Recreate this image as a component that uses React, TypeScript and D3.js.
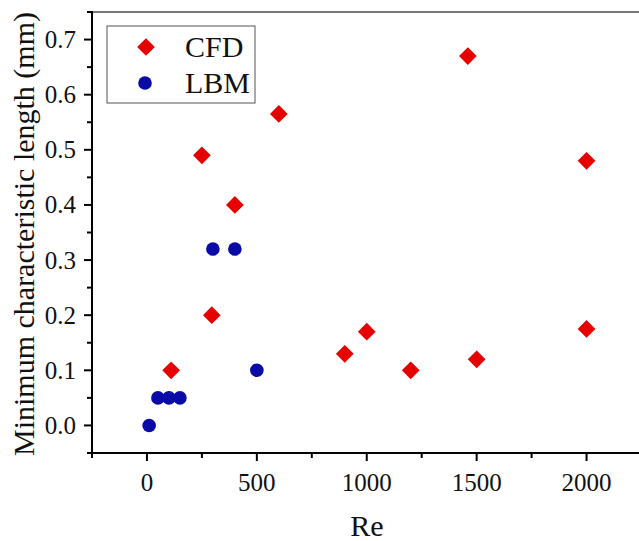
import React from 'react';
import * as d3 from 'd3';

const cfdRe = [110, 295, 250, 400, 600, 900, 1000, 1200, 1460, 1500, 2000, 2000];
const cfdLen = [0.1, 0.2, 0.49, 0.4, 0.565, 0.13, 0.17, 0.1, 0.67, 0.12, 0.48, 0.175];
const lbmRe = [10, 50, 100, 150, 300, 400, 500];
const lbmLen = [0, 0.05, 0.05, 0.05, 0.32, 0.32, 0.1];
const xTicks = [0, 500, 1000, 1500, 2000];
const xMinor = [-250, 250, 750, 1250, 1750];
const yTicks = [0, 0.1, 0.2, 0.3, 0.4, 0.5, 0.6, 0.7];
const yMinor = [-0.05, 0.05, 0.15, 0.25, 0.35, 0.45, 0.55, 0.65, 0.75];

const W = 639;
const H = 541;
const RED = '#e60000';
const BLUE = '#0a0aa6';
const FONT = '"Liberation Serif", "Times New Roman", serif';

const App = () => {
  const x = d3.scaleLinear().domain([-250, 2250]).range([92, 641.5]);
  const y = d3.scaleLinear().domain([-0.05, 0.75]).range([453, 12]);
  const diamond = d3.symbol().type(d3.symbolDiamond2).size(200);

  return (
    <svg width={W} height={H} style={{ position: 'absolute', left: 0, top: 0, background: '#fff' }}>
      {/* top frame */}
      <line x1={x(-250)} x2={W} y1={y(0.75)} y2={y(0.75)} stroke="#777" strokeWidth={2} />
      {/* axes */}
      <line x1={x(-250)} x2={W} y1={y(-0.05)} y2={y(-0.05)} stroke="#000" strokeWidth={2} />
      <line x1={x(-250)} x2={x(-250)} y1={y(-0.05) + 1} y2={y(0.75) - 1} stroke="#000" strokeWidth={2} />

      {xTicks.map((t) => (
        <g key={'xt' + t}>
          <line x1={x(t)} x2={x(t)} y1={y(-0.05)} y2={y(-0.05) + 8} stroke="#000" strokeWidth={2} />
          <text x={x(t)} y={491} textAnchor="middle" fontFamily={FONT} fontSize={25} fill="#111">
            {t}
          </text>
        </g>
      ))}
      {xMinor.map((t) => (
        <line key={'xm' + t} x1={x(t)} x2={x(t)} y1={y(-0.05)} y2={y(-0.05) + 5} stroke="#000" strokeWidth={2} />
      ))}
      {yTicks.map((t) => (
        <g key={'yt' + t}>
          <line x1={x(-250) - 8} x2={x(-250)} y1={y(t)} y2={y(t)} stroke="#000" strokeWidth={2} />
          <text x={76} y={y(t) + 8.5} textAnchor="end" fontFamily={FONT} fontSize={25} fill="#111">
            {t.toFixed(1)}
          </text>
        </g>
      ))}
      {yMinor.map((t) => (
        <line key={'ym' + t} x1={x(-250) - 5} x2={x(-250)} y1={y(t)} y2={y(t)} stroke="#000" strokeWidth={2} />
      ))}

      <text x={367} y={536} textAnchor="middle" fontFamily={FONT} fontSize={30} fill="#111">
        Re
      </text>
      <text
        transform={`translate(34,${234}) rotate(-90)`}
        textAnchor="middle"
        fontFamily={FONT}
        fontSize={30}
        fill="#111"
      >
        Minimum characteristic length (mm)
      </text>

      {/* data */}
      {lbmRe.map((r, i) => (
        <circle key={'l' + i} cx={x(r)} cy={y(lbmLen[i])} r={6.8} fill={BLUE} />
      ))}
      {cfdRe.map((r, i) => (
        <path key={'c' + i} d={diamond() || ''} transform={`translate(${x(r)},${y(cfdLen[i])})`} fill={RED} />
      ))}

      {/* legend */}
      <rect x={107} y={26} width={148} height={77} fill="#fff" stroke="#555" strokeWidth={1} />
      <path d={diamond() || ''} transform="translate(146,47)" fill={RED} />
      <circle cx={145} cy={83} r={6.8} fill={BLUE} />
      <text x={185} y={57} fontFamily={FONT} fontSize={30} fill="#111">
        CFD
      </text>
      <text x={185} y={93} fontFamily={FONT} fontSize={30} fill="#111">
        LBM
      </text>
    </svg>
  );
};

export default App;
